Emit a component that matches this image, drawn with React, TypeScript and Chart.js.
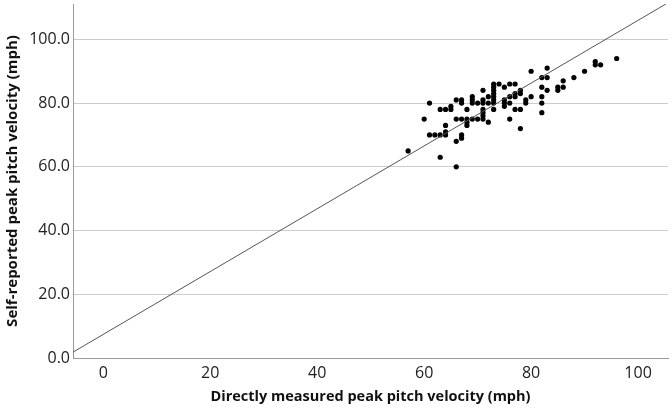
import React, { useEffect, useRef } from "react";
import { Chart, registerables } from "chart.js";

Chart.register(...registerables);

const measuredX: number[] = [
  57, 60, 61, 61, 62, 63, 64, 64, 63, 66, 66, 67, 67, 64, 63, 64, 65, 65, 66, 67,
  67, 66, 67, 68, 68, 68, 69, 70, 68, 69, 69, 69, 70, 71, 71, 71, 71, 71, 71, 71,
  72, 72, 72, 73, 73, 73, 73, 73, 73, 73, 73, 74, 75, 75, 75, 75, 76, 77, 76, 76,
  76, 77, 77, 78, 78, 77, 78, 78, 79, 79, 80, 80, 82, 83, 83, 82, 82, 82, 82, 83,
  85, 85, 86, 86, 88, 90, 92, 92, 93, 96,
];
const reportedY: number[] = [
  65, 75, 80, 70, 70, 70, 70, 71, 63, 60, 68, 70, 69, 73, 78, 78, 78, 79, 81, 81,
  80, 75, 75, 75, 74, 73, 75, 75, 78, 82, 81, 80, 80, 84, 81, 80, 78, 77, 76, 75,
  82, 80, 74, 86, 85, 84, 83, 82, 81, 80, 78, 86, 85, 81, 80, 79, 86, 86, 82, 80,
  75, 83, 82, 84, 83, 78, 78, 72, 81, 80, 82, 90, 88, 88, 91, 85, 82, 80, 77, 84,
  85, 84, 85, 87, 88, 90, 93, 92, 92, 94,
];
const refLineX: number[] = [-5.7, 105.2];
const refLineY: number[] = [1.8, 111.1];
const xTicks: number[] = [0, 20, 40, 60, 80, 100];
const yTicks: number[] = [0, 20, 40, 60, 80, 100];

const FONT = "'Open Sans', 'DejaVu Sans', sans-serif";

export default function App() {
  const ref = useRef<HTMLCanvasElement | null>(null);
  useEffect(() => {
    if (!ref.current) return;
    const chart = new Chart(ref.current, {
      type: "scatter",
      data: {
        datasets: [
          {
            type: "line",
            data: refLineX.map((x, i) => ({ x, y: refLineY[i] })),
            borderColor: "#555555",
            borderWidth: 1,
            pointRadius: 0,
            fill: false,
          },
          {
            type: "scatter",
            data: measuredX.map((x, i) => ({ x, y: reportedY[i] })),
            backgroundColor: "#000000",
            borderColor: "#000000",
            borderWidth: 0,
            pointRadius: 2.6,
          },
        ],
      },
      options: {
        animation: false,
        responsive: false,
        maintainAspectRatio: false,
        layout: { padding: { top: 4, right: 4, left: 0, bottom: 0 } },
        plugins: { legend: { display: false }, tooltip: { enabled: false } },
        scales: {
          x: {
            type: "linear",
            min: -5.67,
            max: 105.6,
            afterBuildTicks: (s: any) => {
              s.ticks = xTicks.map((v) => ({ value: v }));
            },
            afterFit: (s: any) => {
              s.height = 55;
              s.paddingLeft = 0;
              s.paddingRight = 0;
            },
            grid: { display: false, drawTicks: false },
            border: { display: true, color: "#9a9a9a", width: 1 },
            ticks: {
              padding: 6,
              color: "#222222",
              font: { family: FONT, size: 16 },
              callback: (v: any) => String(v),
            },
            title: {
              display: true,
              text: "Directly measured peak pitch velocity (mph)",
              color: "#111111",
              font: { family: FONT, size: 14.5, weight: "bold" },
              padding: { top: 0, bottom: 7 },
            },
          },
          y: {
            type: "linear",
            min: 0,
            max: 111.1,
            afterBuildTicks: (s: any) => {
              s.ticks = yTicks.map((v) => ({ value: v }));
            },
            afterFit: (s: any) => {
              s.width = 73;
              s.paddingTop = 0;
              s.paddingBottom = 0;
            },
            grid: { color: "#cccccc", drawTicks: false, lineWidth: 1 },
            border: { display: true, color: "#9a9a9a", width: 1 },
            ticks: {
              padding: 3,
              color: "#222222",
              font: { family: FONT, size: 16 },
              callback: (v: any) => Number(v).toFixed(1),
            },
            title: {
              display: true,
              text: "Self-reported peak pitch velocity (mph)",
              color: "#111111",
              font: { family: FONT, size: 15, weight: "bold" },
              padding: { top: 4, bottom: 0 },
            },
          },
        },
      },
    } as any);
    return () => chart.destroy();
  }, []);
  return (
    <div style={{ position: "fixed", left: 0, top: 0, width: 672, height: 413, background: "#fff" }}>
      <canvas ref={ref} width={672} height={413} style={{ width: 672, height: 413 }} />
    </div>
  );
}
